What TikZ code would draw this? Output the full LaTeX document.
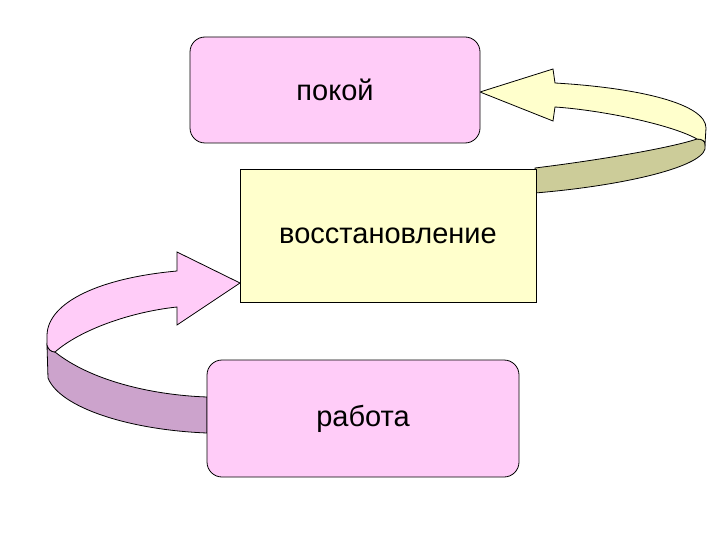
\documentclass[tikz,border=0pt]{standalone}
\usepackage{fontspec}
\setmainfont{Liberation Sans}
\usetikzlibrary{positioning}
\definecolor{boxpink}{HTML}{FFCCF8}
\definecolor{boxyellow}{HTML}{FFFFCC}
\definecolor{bandolive}{HTML}{CCCC99}
\definecolor{bandmauve}{HTML}{CCA3CC}

\begin{document}
\begin{tikzpicture}[
  x=1pt, y=-1pt,
  box/.style={draw=black, line width=0.8pt, minimum width=#1, inner sep=0pt,
    font=\fontsize{29}{32}\selectfont},
  ribbon/.style={draw=black, line width=0.8pt, line join=miter}
]
\useasboundingbox (0,0) rectangle (720,540);

% ribbons first, boxes on top
\filldraw[ribbon, fill=bandolive] (535,168) .. controls (600,160) and (670,148) .. (697,139)
  .. controls (702,139) and (705,141) .. (705,144) -- (705,149)
  .. controls (700,168) and (620,186) .. (535,193) -- cycle;
\filldraw[ribbon, fill=boxyellow] (480,92) -- (553,69) -- (555,83)
  .. controls (640,88) and (706,104) .. (706,128) -- (705,144)
  .. controls (705,141) and (702,139) .. (697,139)
  .. controls (670,124) and (600,110) .. (555,107) -- (553,121) -- cycle;

\filldraw[ribbon, fill=bandmauve] (55,352) .. controls (90,380) and (150,395) .. (207,397)
  -- (207,433) .. controls (130,430) and (60,408) .. (48,378) -- (47,345)
  .. controls (48,349) and (51,352) .. (55,352);
\filldraw[ribbon, fill=boxpink] (240,283) -- (177,252) -- (177,271)
  .. controls (100,278) and (48,302) .. (47,335) -- (47,345)
  .. controls (48,349) and (51,352) .. (55,352)
  .. controls (80,330) and (130,312) .. (177,307) -- (177,325) -- cycle;

\node[box=290pt, minimum height=106pt, fill=boxpink, rounded corners=15pt] (rest) at (335,90) {покой};
\node[box=296pt, minimum height=133pt, fill=boxyellow] (recovery) at (388,235.5) {восстановление};
\node[box=312pt, minimum height=117pt, fill=boxpink, rounded corners=15pt] (work) at (363,418.5) {работа};
\end{tikzpicture}
\end{document}
